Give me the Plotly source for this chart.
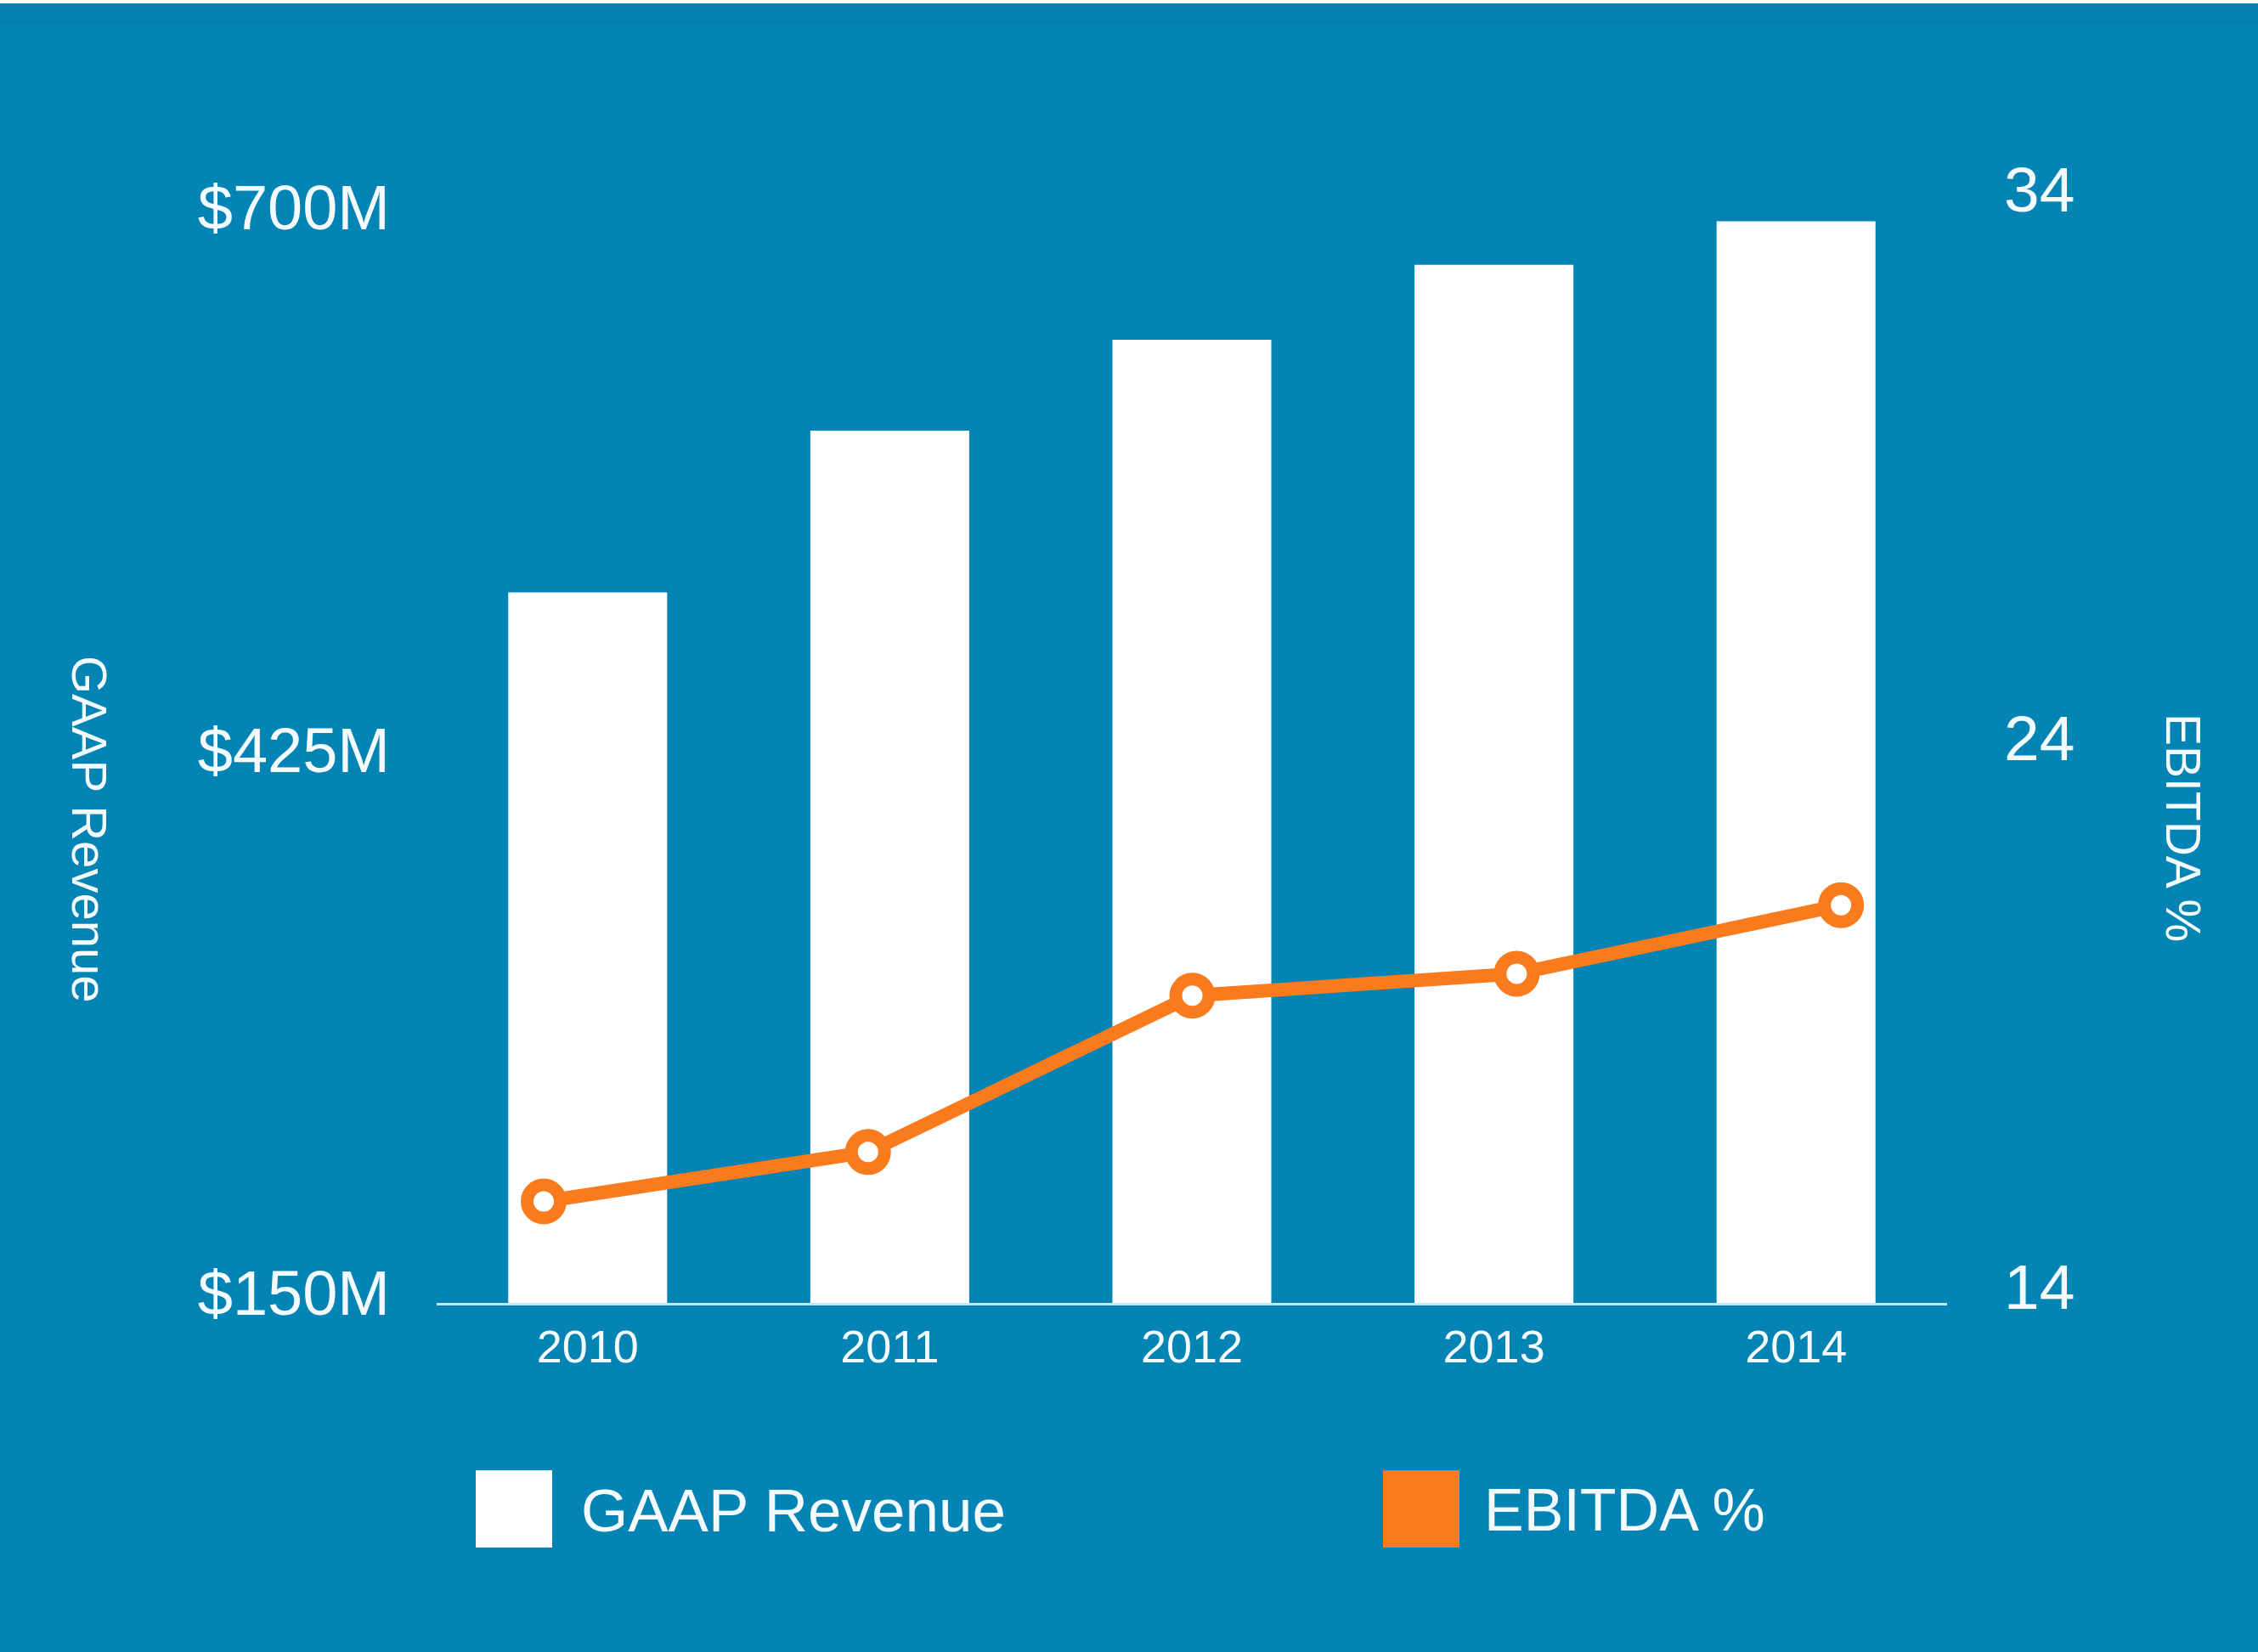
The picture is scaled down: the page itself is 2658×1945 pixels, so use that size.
import plotly.graph_objects as go

# ---- data -------------------------------------------------------------
years = ["2010", "2011", "2012", "2013", "2014"]
year_nums = [2010, 2011, 2012, 2013, 2014]
gaap_revenue = [510, 592, 638, 676, 698]          # $M
ebitda_pct = [15.85, 16.75, 19.6, 20.0, 21.25]     # %

rev_tickvals = [150, 425, 700]
rev_ticktext = ["$150M", "$425M", "$700M"]
pct_tickvals = [14, 24, 34]
pct_ticktext = ["14", "24", "34"]

# ---- styling ----------------------------------------------------------
W, H = 2658, 1945
BG = "#0384B4"
ORANGE = "#FA7A1E"
AXIS_LINE = "#C2E8F4"
TEXT = "#F4FBFE"
FONT = "Liberation Sans"

# plot area in pixels
L, R, T, B = 514, 2292, 242, 1534
PW, PH = R - L, B - T


def px_x(x):
    return (x - L) / PW


def px_y(y):
    return (B - y) / PH


fig = go.Figure()

fig.add_trace(go.Bar(
    x=years, y=gaap_revenue, name="GAAP Revenue",
    marker=dict(color="#FFFFFF", line=dict(width=0)),
    xaxis="x", yaxis="y", showlegend=False,
))

fig.add_trace(go.Scatter(
    x=year_nums, y=ebitda_pct, name="EBITDA %",
    mode="lines+markers",
    line=dict(color=ORANGE, width=16),
    marker=dict(symbol="circle", size=39, color="#FFFFFF",
                line=dict(color=ORANGE, width=15)),
    xaxis="x2", yaxis="y2", showlegend=False, cliponaxis=False,
))

fig.update_layout(
    width=W, height=H, autosize=False,
    paper_bgcolor=BG, plot_bgcolor=BG,
    margin=dict(l=L, r=W - R, t=T, b=H - B, pad=0),
    font=dict(family=FONT, color=TEXT),
    bargap=0.474,
    xaxis=dict(
        type="category", categoryorder="array", categoryarray=years,
        showline=True, linecolor=AXIS_LINE, linewidth=3,
        showgrid=False, zeroline=False, ticks="",
        tickfont=dict(size=54, color=TEXT, family=FONT),
        ticklabelstandoff=2,
    ),
    xaxis2=dict(
        overlaying="x", range=[2009.670, 2014.327], visible=False,
        showgrid=False, zeroline=False,
    ),
    yaxis=dict(
        range=[150, 706.0], tickvals=rev_tickvals, ticktext=rev_ticktext,
        showgrid=False, zeroline=False, showline=False, ticks="",
        tickfont=dict(size=74, color=TEXT, family=FONT),
        ticklabelstandoff=54, ticklabelshift=-12,
    ),
    yaxis2=dict(
        overlaying="y", side="right", anchor="x2",
        range=[14, 34], tickvals=pct_tickvals, ticktext=pct_ticktext,
        showgrid=False, zeroline=False, showline=False, ticks="",
        tickfont=dict(size=75, color=TEXT, family=FONT),
        ticklabelstandoff=66, ticklabelshift=-19,
    ),
)

shapes = [
    # thin white strip and slightly darker band along the top edge
    dict(type="rect", xref="paper", yref="paper",
         x0=px_x(0), x1=px_x(W), y0=px_y(28), y1=px_y(4),
         fillcolor="#0280AE", line=dict(width=0), layer="below"),
    dict(type="rect", xref="paper", yref="paper",
         x0=px_x(0), x1=px_x(W), y0=px_y(4), y1=px_y(0),
         fillcolor="#FFFFFF", line=dict(width=0), layer="below"),
    # legend swatches
    dict(type="rect", xref="paper", yref="paper",
         x0=px_x(560), x1=px_x(650), y0=px_y(1822), y1=px_y(1731),
         fillcolor="#FFFFFF", line=dict(width=0)),
    dict(type="rect", xref="paper", yref="paper",
         x0=px_x(1628), x1=px_x(1718), y0=px_y(1822), y1=px_y(1731),
         fillcolor=ORANGE, line=dict(width=0)),
]
fig.update_layout(shapes=shapes)

annotations = [
    dict(text="GAAP Revenue", xref="paper", yref="paper",
         x=px_x(682), y=px_y(1778), xanchor="left", yanchor="middle",
         showarrow=False, font=dict(size=71, color=TEXT, family=FONT)),
    dict(text="EBITDA %", xref="paper", yref="paper",
         x=px_x(1745), y=px_y(1778), xanchor="left", yanchor="middle",
         showarrow=False, font=dict(size=70, color=TEXT, family=FONT)),
    # axis titles, reading top to bottom
    dict(text="GAAP Revenue", xref="paper", yref="paper",
         x=px_x(106), y=px_y(976), xanchor="center", yanchor="middle",
         textangle=90, showarrow=False,
         font=dict(size=58, color=TEXT, family=FONT)),
    dict(text="EBITDA %", xref="paper", yref="paper",
         x=px_x(2570), y=px_y(974), xanchor="center", yanchor="middle",
         textangle=90, showarrow=False,
         font=dict(size=57, color=TEXT, family=FONT)),
]
fig.update_layout(annotations=annotations)

fig.write_html("out.html")
